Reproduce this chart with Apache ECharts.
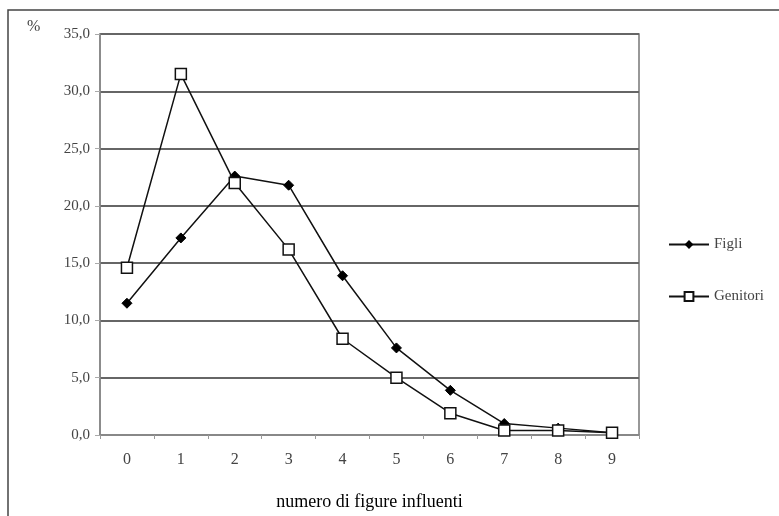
<!DOCTYPE html>
<html>
<head>
<meta charset="utf-8">
<script src="https://cdn.jsdelivr.net/npm/echarts@6/dist/echarts.min.js"></script>
<style>html,body{margin:0;padding:0;background:#fff;}#c{width:779px;height:516px;}</style>
</head>
<body>
<div id="c"></div>
<script>
var categories = ['0','1','2','3','4','5','6','7','8','9'];
var figli = [11.5, 17.2, 22.6, 21.8, 13.9, 7.6, 3.9, 1.0, 0.6, 0.2];
var genitori = [14.6, 31.5, 22.0, 16.2, 8.4, 5.0, 1.9, 0.4, 0.4, 0.2];
var seriesNames = ['Figli', 'Genitori'];
var xTitle = 'numero di figure influenti';
var yUnit = '%';

var chart = echarts.init(document.getElementById('c'), null, {renderer: 'canvas'});
var serif = '"Liberation Serif", "DejaVu Serif", serif';
chart.setOption({
  animation: false,
  backgroundColor: '#fff',
  grid: {left: 100, right: 140, top: 34, bottom: 76, show: true, borderColor: '#777', borderWidth: 1.5},
  graphic: [
    {type: 'rect', shape: {x: 8, y: 10, width: 900, height: 700}, style: {fill: 'none', stroke: '#444', lineWidth: 1.5}, silent: true},
    {type: 'text', left: 27, top: 19, style: {text: yUnit, font: '16px ' + serif, fill: '#444'}}
  ],
  legend: {
    orient: 'vertical', left: 663, top: 232, itemGap: 37, itemWidth: 40, itemHeight: 11,
    textStyle: {fontFamily: serif, fontSize: 15, color: '#444'},
    data: seriesNames
  },
  xAxis: {
    type: 'category', data: categories, boundaryGap: true,
    axisLine: {show: true, lineStyle: {color: '#888', width: 2}},
    axisTick: {show: true, length: 4, lineStyle: {color: '#999'}},
    axisLabel: {margin: 17, fontFamily: serif, fontSize: 16, color: '#444'},
    name: xTitle, nameLocation: 'middle', nameGap: 58,
    nameTextStyle: {fontFamily: serif, fontSize: 18, color: '#000'}
  },
  yAxis: {
    type: 'value', min: 0, max: 35, interval: 5,
    axisLine: {show: true, lineStyle: {color: '#888', width: 1.5}},
    axisTick: {show: true, length: 5, lineStyle: {color: '#aaa'}},
    splitLine: {show: true, lineStyle: {color: '#666', width: 2}},
    axisLabel: {margin: 10, fontFamily: serif, fontSize: 15, color: '#444',
      formatter: function (v) { return v.toFixed(1).replace('.', ','); }}
  },
  series: [
    {name: seriesNames[0], type: 'line', data: figli, symbol: 'diamond', symbolSize: 10,
     lineStyle: {color: '#111', width: 1.5}, itemStyle: {color: '#000', borderColor: '#000'}, z: 3},
    {name: seriesNames[1], type: 'line', data: genitori, symbol: 'rect', symbolSize: 11,
     lineStyle: {color: '#111', width: 1.5}, itemStyle: {color: '#fff', borderColor: '#111', borderWidth: 1.5}, z: 4}
  ]
});
</script>
</body>
</html>
